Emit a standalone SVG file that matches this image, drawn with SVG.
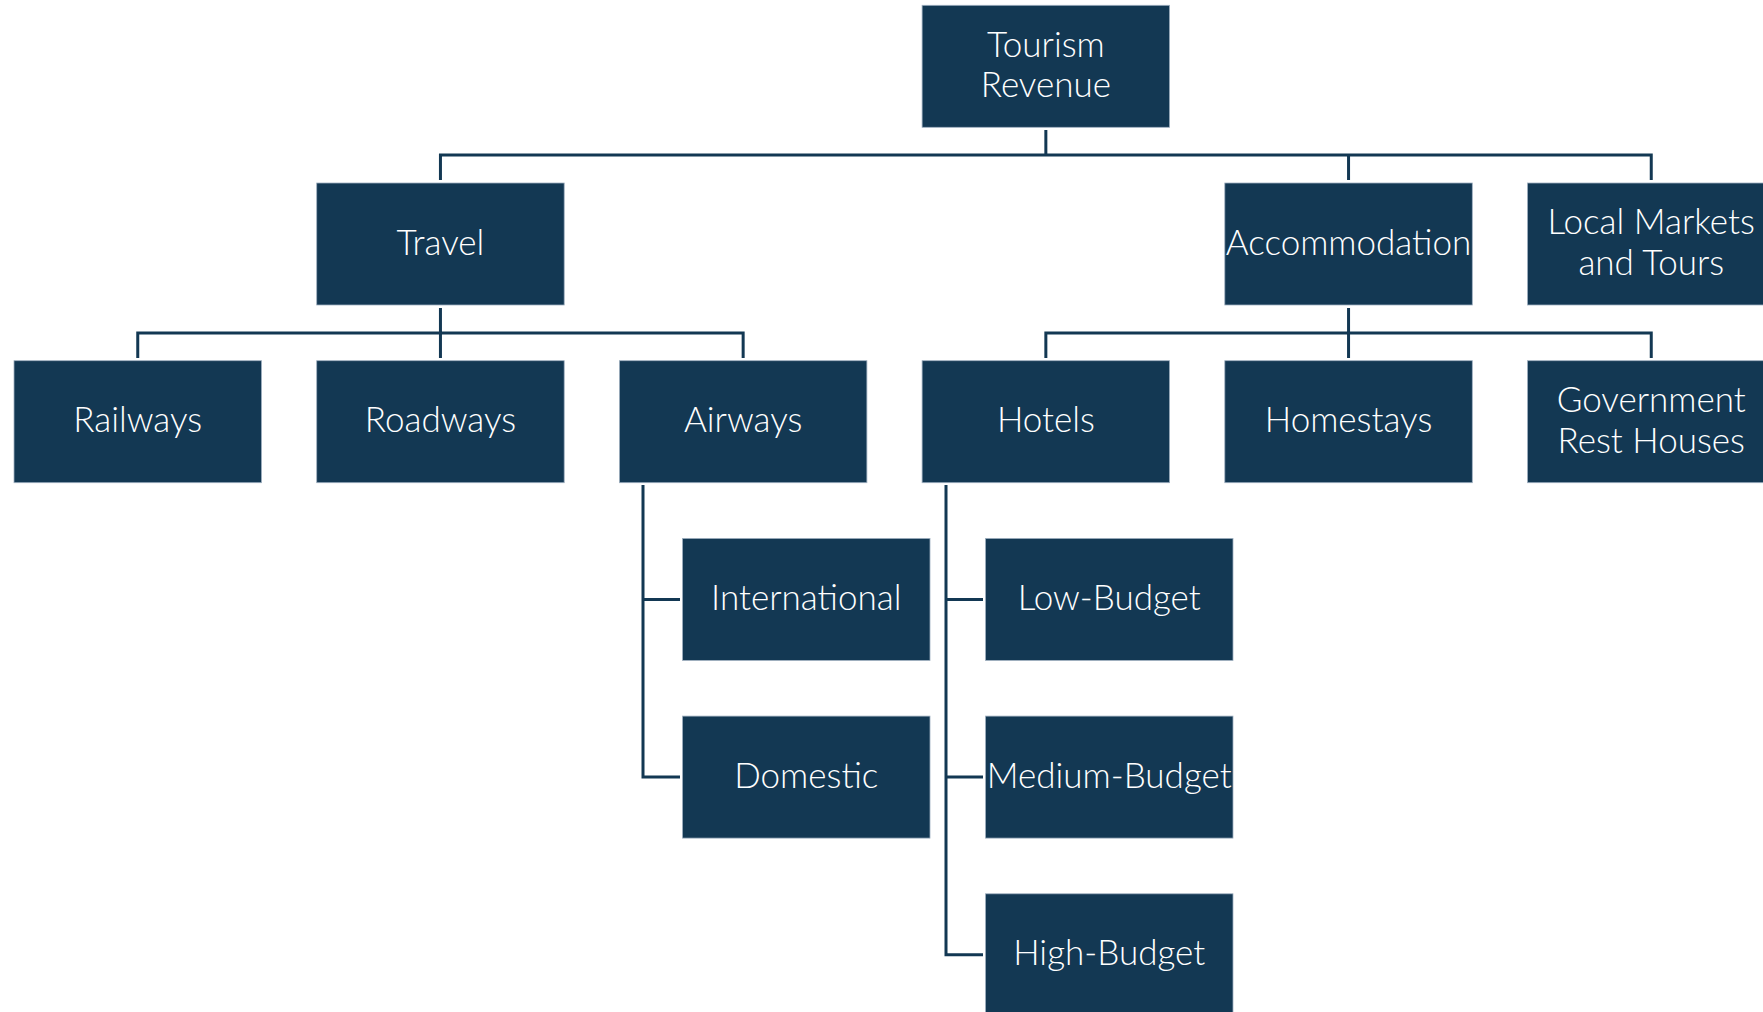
<svg xmlns="http://www.w3.org/2000/svg" width="1763" height="1012" viewBox="0 0 1763 1012">
<style>
.box{fill:#133853;stroke:#9fb0c0;stroke-width:0.8}
.t{fill:#ffffff;font-family:"Lato","Open Sans","Liberation Sans",sans-serif;font-weight:300;font-size:35px;text-anchor:middle;dominant-baseline:central}
.c{fill:none;stroke:#133853;stroke-width:3}
</style>
<rect width="1763" height="1012" fill="#ffffff"/>
<g id="connectors">
<path class="c" d="M1045.85 130 V155 M440.45 180 V155 H1651.25 V180 M1348.55 155 V180"/>
<path class="c" d="M440.45 308 V358 M137.75 358 V333 H743.15 V358"/>
<path class="c" d="M1348.55 308 V358 M1045.85 358 V333 H1651.25 V358"/>
<path class="c" d="M643 485 V777.1 H680 M643 599.4 H680"/>
<path class="c" d="M946 485 V954.8 H983 M946 599.4 H983 M946 777.1 H983"/>
</g>
<g id="tourism-revenue"><rect class="box" x="922.1" y="5.3" width="247.5" height="122"/><text class="t" x="1045.85" y="42.5"><tspan x="1045.85">Tourism</tspan><tspan x="1045.85" dy="40.7">Revenue</tspan></text></g>
<g id="travel"><rect class="box" x="316.7" y="183" width="247.5" height="122"/><text class="t" x="440.45" y="240.5">Travel</text></g>
<g id="accommodation"><rect class="box" x="1224.8" y="183" width="247.5" height="122"/><text class="t" x="1348.55" y="240.5">Accommodation</text></g>
<g id="local-markets"><rect class="box" x="1527.5" y="183" width="247.5" height="122"/><text class="t" x="1651.25" y="220.2"><tspan x="1651.25">Local Markets</tspan><tspan x="1651.25" dy="40.7">and Tours</tspan></text></g>
<g id="railways"><rect class="box" x="14" y="360.7" width="247.5" height="122"/><text class="t" x="137.75" y="418.2">Railways</text></g>
<g id="roadways"><rect class="box" x="316.7" y="360.7" width="247.5" height="122"/><text class="t" x="440.45" y="418.2">Roadways</text></g>
<g id="airways"><rect class="box" x="619.4" y="360.7" width="247.5" height="122"/><text class="t" x="743.15" y="418.2">Airways</text></g>
<g id="hotels"><rect class="box" x="922.1" y="360.7" width="247.5" height="122"/><text class="t" x="1045.85" y="418.2">Hotels</text></g>
<g id="homestays"><rect class="box" x="1224.8" y="360.7" width="247.5" height="122"/><text class="t" x="1348.55" y="418.2">Homestays</text></g>
<g id="government-rest-houses"><rect class="box" x="1527.5" y="360.7" width="247.5" height="122"/><text class="t" x="1651.25" y="397.9"><tspan x="1651.25">Government</tspan><tspan x="1651.25" dy="40.7">Rest Houses</tspan></text></g>
<g id="international"><rect class="box" x="682.5" y="538.4" width="247.5" height="122"/><text class="t" x="806.25" y="595.9">International</text></g>
<g id="domestic"><rect class="box" x="682.5" y="716.1" width="247.5" height="122"/><text class="t" x="806.25" y="773.6">Domestic</text></g>
<g id="low-budget"><rect class="box" x="985.5" y="538.4" width="247.5" height="122"/><text class="t" x="1109.25" y="595.9">Low-Budget</text></g>
<g id="medium-budget"><rect class="box" x="985.5" y="716.1" width="247.5" height="122"/><text class="t" x="1109.25" y="773.6">Medium-Budget</text></g>
<g id="high-budget"><rect class="box" x="985.5" y="893.8" width="247.5" height="122"/><text class="t" x="1109.25" y="951.3">High-Budget</text></g>
</svg>
